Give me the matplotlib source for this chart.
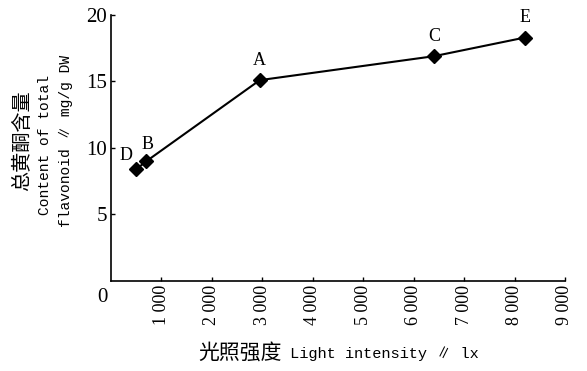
import matplotlib
matplotlib.use("Agg")
import matplotlib.pyplot as plt

plt.rcParams['font.family'] = ['Liberation Serif', 'DejaVu Serif', 'Noto Sans CJK SC']
mono = ['Liberation Mono', 'DejaVu Sans Mono', 'Noto Sans CJK SC']
cjk = ['Noto Sans CJK SC']

# 数据
light = [500, 700, 2950, 6400, 8200]
flavonoid = [8.4, 9.0, 15.1, 16.9, 18.3]
point_names = ['D', 'B', 'A', 'C', 'E']
x_ticks = [1000, 2000, 3000, 4000, 5000, 6000, 7000, 8000, 9000]
x_tick_labels = ['1 000', '2 000', '3 000', '4 000', '5 000', '6 000', '7 000', '8 000', '9 000']
y_ticks = [5, 10, 15, 20]

fig = plt.figure(figsize=(5.87, 3.71), dpi=100)
ax = fig.add_axes([0.189, 0.2426, 0.7735, 0.717])

ax.plot(light, flavonoid, color='black', lw=1.5, marker='D', ms=7, mfc='black', mec='black')

# 点标注
offsets = {'D': (-7, 4), 'B': (1, 6), 'A': (0, 8), 'C': (0, 8), 'E': (0, 8)}
for x, y, n in zip(light, flavonoid, point_names):
    dx, dy = offsets[n]
    ax.annotate(n, (x, y), xytext=(dx, dy), textcoords='offset points',
                ha='center', va='bottom', fontsize=13)

ax.set_xlim(0, 9000)
ax.set_ylim(0, 20)
ax.set_xticks(x_ticks)
ax.set_xticklabels(x_tick_labels, rotation=90, fontsize=13)
ax.set_yticks(y_ticks)
ax.set_yticklabels([str(v) for v in y_ticks], fontsize=15)
ax.tick_params(direction='in', length=3, width=1, pad=3)
ax.annotate('0', (0, 0), xytext=(-6, -5), textcoords='offset points',
            ha='center', va='top', fontsize=15, annotation_clip=False)

for s in ['top', 'right']:
    ax.spines[s].set_visible(False)
for s in ['left', 'bottom']:
    ax.spines[s].set_linewidth(1.2)

# x轴标题：中文 + 英文
t1 = fig.text(0.337, 0.02, '光照强度', family=cjk, fontsize=15, ha='left', va='bottom')
ax.annotate(' Light intensity ∥ lx', xy=(1, 0.12), xycoords=t1, ha='left', va='bottom',
            family=mono, fontsize=11)

# y轴标题，三行
fig.text(0.038, 0.62, '总黄酮含量', rotation=90, ha='center', va='center',
         family=cjk, fontsize=14.5)
fig.text(0.077, 0.61, 'Content of total', rotation=90, ha='center', va='center',
         family=mono, fontsize=10.5)
fig.text(0.113, 0.62, 'flavonoid ∥ mg/g DW', rotation=90, ha='center', va='center',
         family=mono, fontsize=10.5)

fig.savefig('out.png', dpi=100)
